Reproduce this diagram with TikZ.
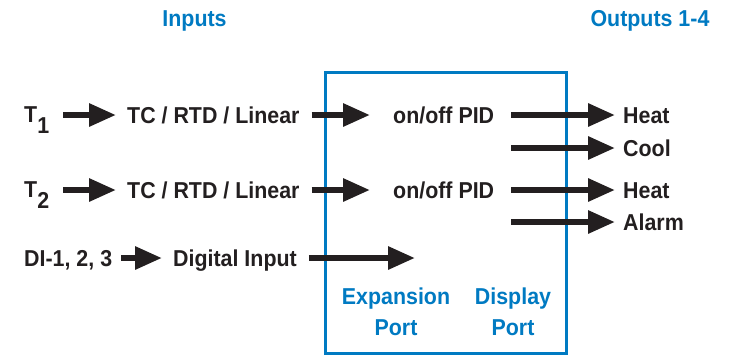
\documentclass[tikz,border=0pt]{standalone}
\usepackage{fontspec}
\setmainfont[FakeStretch=0.93]{Liberation Sans}
\usepackage{xcolor}
\usetikzlibrary{arrows.meta,positioning}
\definecolor{portblue}{RGB}{0,122,194}
\definecolor{ink}{RGB}{35,31,32}

\begin{document}
\begin{tikzpicture}[
  x=1pt, y=-1pt,
  font=\fontsize{23}{31}\selectfont\bfseries,
  lbl/.style={inner sep=0pt, text height=16pt, text depth=0pt, text=ink},
  head/.style={inner sep=0pt, text height=16pt, text depth=0pt, text=portblue},
  port/.style={inner sep=0pt, align=center, text=portblue},
  unit/.style={draw=portblue, line width=3pt, minimum width=241pt,
               minimum height=281pt, inner sep=0pt},
  arrow/.style={-{Triangle[length=27pt,width=22pt]}, line width=6pt, draw=ink,
                shorten <=12pt, shorten >=11pt}
]
\useasboundingbox (0,0) rectangle (729,354);

\node[unit] (ctrl) at (445.5,212.5) {};

\node[head] (inputs) at (194.5,18.5) {Inputs};
\node[head] (outputs) at (650,18.5) {Outputs 1-4};

\node[lbl, anchor=west] (t1) at (24,114) {T\raisebox{-11pt}{1}};
\node[lbl, anchor=west] (tc1) at (127,115) {TC / RTD / Linear};
\node[lbl, anchor=west] (pid1) at (393,115) {on/off PID};
\node[lbl, anchor=west] (heat1) at (623,115) {Heat};
\node[lbl, anchor=west] (cool) at (623,148) {Cool};

\node[lbl, anchor=west] (t2) at (24,189) {T\raisebox{-11pt}{2}};
\node[lbl, anchor=west] (tc2) at (127,190) {TC / RTD / Linear};
\node[lbl, anchor=west] (pid2) at (393,190) {on/off PID};
\node[lbl, anchor=west] (heat2) at (623,190) {Heat};
\node[lbl, anchor=west] (alarm) at (623,222) {Alarm};

\node[lbl, anchor=west] (di) at (24,258) {DI-1, 2, 3};
\node[lbl, anchor=west] (dig) at (173,258) {Digital Input};
\coordinate (bus) at (415,258);

\node[port] (exp) at (396,312) {Expansion\\Port};
\node[port] (disp) at (513,312) {Display\\Port};

% input side
\draw[arrow, shorten <=14pt] (t1.east |- tc1.west) -- (tc1.west);
\draw[arrow, shorten <=14pt] (t2.east |- tc2.west) -- (tc2.west);
\draw[arrow, shorten <=9pt] (di.east) -- (dig.west);
\draw[arrow, shorten >=23pt] (tc1.east) -- (pid1.west);
\draw[arrow, shorten >=23pt] (tc2.east) -- (pid2.west);
\draw[arrow, shorten >=0pt] (dig.east) -- (bus);

% outputs
\draw[arrow, shorten <=17pt, shorten >=8pt] (pid1.east) -- (heat1.west);
\draw[arrow, shorten <=17pt, shorten >=8pt] (pid1.east |- cool.west) -- (cool.west);
\draw[arrow, shorten <=17pt, shorten >=8pt] (pid2.east) -- (heat2.west);
\draw[arrow, shorten <=17pt, shorten >=8pt] (pid2.east |- alarm.west) -- (alarm.west);
\end{tikzpicture}
\end{document}
